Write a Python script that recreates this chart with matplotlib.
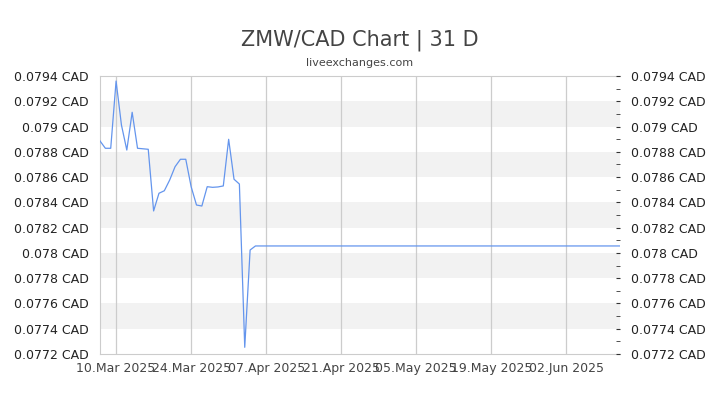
import matplotlib
matplotlib.use("Agg")
import matplotlib.pyplot as plt
import matplotlib.dates as mdates
import numpy as np
import pandas as pd

# daily rates, 07 Mar 2025 .. 05 Apr 2025, then flat until 12 Jun 2025
first_rates = [0.078886, 0.078828, 0.078828, 0.079360, 0.079012, 0.078814,
               0.079113, 0.078828, 0.078824, 0.078820, 0.078332, 0.078472,
               0.078492, 0.078577, 0.078682, 0.078741, 0.078741, 0.078524,
               0.078379, 0.078371, 0.078524, 0.078519, 0.078522, 0.078530,
               0.078899, 0.078583, 0.078545, 0.077253, 0.078023, 0.078055]
flat_rate = 0.078055
start_date = "2025-03-07"
end_date = "2025-06-12"

dates = pd.date_range(start_date, end_date, freq="D")
rates = first_rates + [flat_rate] * (len(dates) - len(first_rates))

tick_dates = pd.to_datetime(["2025-03-10", "2025-03-24", "2025-04-07", "2025-04-21",
                             "2025-05-05", "2025-05-19", "2025-06-02"])
y_ticks = np.round(np.arange(0.0772, 0.07941, 0.0002), 4)

fig = plt.figure(figsize=(7.2, 4.05), dpi=100)
ax = fig.add_axes([100/720, 1 - 354/405, 520/720, 278/405])

ax.set_xlim(dates[0], dates[-1])
ax.set_ylim(0.0772, 0.0794)

# alternating bands
for i, lo in enumerate(y_ticks[:-1]):
    if i % 2 == 1:
        ax.axhspan(lo, y_ticks[i + 1], color="#f2f2f2", zorder=0, lw=0)

for d in tick_dates:
    ax.axvline(d, color="#cccccc", lw=0.9, zorder=1)

ax.plot(dates, rates, color="#6495ed", lw=0.9, zorder=3)

for s in ["left", "bottom", "top"]:
    ax.spines[s].set_color("#cccccc")
ax.spines["right"].set_visible(False)

ax.set_xticks(tick_dates)
ax.set_xticklabels([d.strftime("%d.%b %Y") for d in tick_dates], fontsize=9, color="#444444")
ax.tick_params(axis="x", length=0, pad=6)

labels = [("%.4f" % v).rstrip("0") + " CAD" for v in y_ticks]
ax.set_yticks(y_ticks)
ax.set_yticklabels(labels, fontsize=9, color="#222222")
ax.tick_params(axis="y", length=0, pad=8)

ax2 = ax.twinx()
ax2.set_ylim(ax.get_ylim())
ax2.set_yticks(y_ticks)
ax2.set_yticklabels(labels, fontsize=9, color="#222222")
ax2.set_yticks(np.arange(0.0773, 0.0794, 0.0002), minor=True)
ax2.tick_params(axis="y", which="both", direction="in", length=3, pad=8, color="#333333")
for s in ax2.spines.values():
    s.set_visible(False)

fig.text(0.5, 1 - 40/405, "ZMW/CAD Chart | 31 D", ha="center", va="center",
         fontsize=15, color="#444444")
fig.text(0.5, 1 - 63/405, "liveexchanges.com", ha="center", va="center",
         fontsize=8, color="#444444")

fig.savefig("out.png", dpi=100)
